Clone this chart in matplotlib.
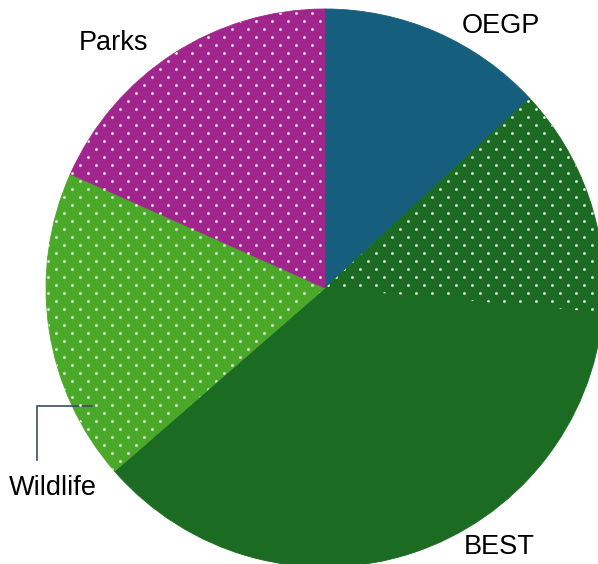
import matplotlib
matplotlib.use("Agg")
import matplotlib.pyplot as plt
import numpy as np

plt.rcParams['font.family'] = ['Liberation Sans', 'DejaVu Sans']

labels = ["OEGP", "", "BEST", "Wildlife", "Parks"]
values = [13.1, 13.3, 37.2, 18.1, 18.3]
colors = ["#155E7E", "#1B6B23", "#1B6B23", "#4BA92A", "#A0258C"]
dotted = [False, True, False, True, True]

W, H = 598, 564
CX, CY, R = 325, 288, 279

fig = plt.figure(figsize=(W / 100, H / 100), dpi=100)
ax = fig.add_axes([0, 0, 1, 1])

wedges, _ = ax.pie(values, colors=colors, startangle=90, counterclock=False,
                   radius=1.0, center=(0, 0), frame=True,
                   wedgeprops=dict(linewidth=0.6, antialiased=True))
for w, c in zip(wedges, colors):
    w.set_edgecolor(c)
ax.set_xlim(-CX / R, (W - CX) / R)
ax.set_ylim(-(H - CY) / R, CY / R)
ax.set_aspect('equal')
ax.axis('off')

# dot texture (staggered grid: 16 px across, 8 px between rows)
step = 8.0 / R
gx, gy = [], []
for i, yy in enumerate(np.arange(-1.05, 1.05, step)):
    off = step if i % 2 else 0.0
    xs = np.arange(-1.05 + off, 1.05, 2 * step)
    gx.extend(xs)
    gy.extend([yy] * len(xs))
gx = np.array(gx)
gy = np.array(gy)
for w, d in zip(wedges, dotted):
    if d:
        sc = ax.scatter(gx, gy, s=4.0, c="#F0F4F0", linewidths=0, zorder=3)
        sc.set_clip_path(w)


def px(x, y):
    return ((x - CX) / R, (CY - y) / R)


fs = 19.5
ax.text(*px(501, 26), "OEGP", fontsize=fs, ha='center', va='center')
ax.text(*px(113, 43), "Parks", fontsize=fs, ha='center', va='center')
ax.text(*px(499, 547), "BEST", fontsize=fs, ha='center', va='center')
ax.text(*px(53, 488), "Wildlife", fontsize=fs, ha='center', va='center')

p1 = px(92, 406)
p2 = px(37, 406)
p3 = px(37, 460)
ax.plot([p1[0], p2[0], p3[0]], [p1[1], p2[1], p3[1]], color="#3B4B66",
        linewidth=1.2, solid_joinstyle='miter')

fig.savefig("out.png", dpi=100)
